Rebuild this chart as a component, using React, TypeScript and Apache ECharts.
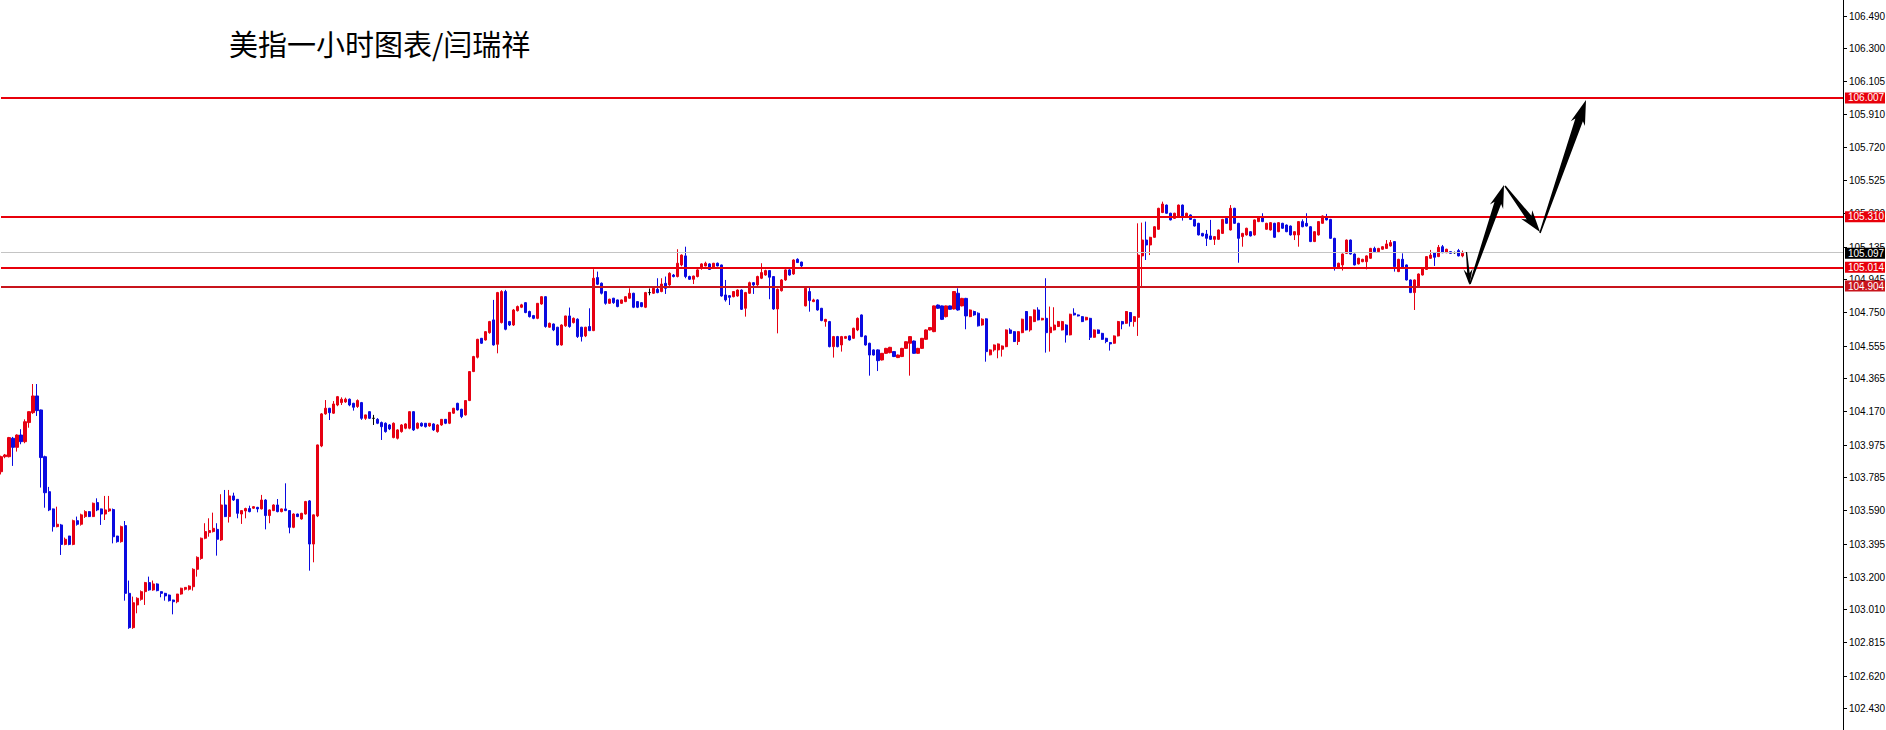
import React, { useEffect, useRef } from 'react';
import * as echarts from 'echarts';

const TITLE = '美指一小时图表/闫瑞祥';

// hourly candles: [open, close, low, high]
const candles: number[][] = [
  [103.816, 103.904, 103.800, 103.910], [103.904, 103.914, 103.895, 103.920], [103.904, 104.016, 103.900, 104.020], [104.012, 103.959, 103.850, 104.020],
  [103.959, 104.031, 103.934, 104.035], [104.031, 103.992, 103.977, 104.065], [103.992, 104.109, 103.983, 104.123], [104.104, 104.168, 104.074, 104.170],
  [104.162, 104.260, 104.155, 104.330], [104.260, 104.174, 104.143, 104.330], [104.178, 103.899, 103.723, 104.180], [103.904, 103.693, 103.605, 103.910],
  [103.699, 103.592, 103.585, 103.727], [103.598, 103.494, 103.465, 103.600], [103.494, 103.508, 103.490, 103.611], [103.504, 103.390, 103.328, 103.510],
  [103.390, 103.420, 103.385, 103.430], [103.439, 103.390, 103.385, 103.440], [103.390, 103.529, 103.385, 103.535], [103.529, 103.508, 103.500, 103.553],
  [103.508, 103.563, 103.500, 103.570], [103.553, 103.582, 103.545, 103.590], [103.582, 103.553, 103.550, 103.585], [103.553, 103.631, 103.550, 103.635],
  [103.635, 103.592, 103.585, 103.660], [103.598, 103.568, 103.504, 103.600], [103.568, 103.592, 103.533, 103.674], [103.586, 103.598, 103.580, 103.674],
  [103.594, 103.435, 103.396, 103.600], [103.439, 103.406, 103.400, 103.440], [103.406, 103.494, 103.400, 103.500], [103.500, 103.103, 103.060, 103.527],
  [103.103, 102.902, 102.895, 103.178], [102.902, 103.048, 102.895, 103.084], [103.035, 103.074, 102.986, 103.080], [103.068, 103.113, 103.060, 103.120],
  [103.113, 103.166, 103.035, 103.170], [103.166, 103.123, 103.118, 103.201], [103.123, 103.158, 103.118, 103.178], [103.158, 103.119, 103.115, 103.162],
  [103.113, 103.103, 103.080, 103.115], [103.103, 103.088, 103.060, 103.106], [103.093, 103.060, 103.055, 103.096], [103.064, 103.054, 102.980, 103.066],
  [103.054, 103.099, 103.045, 103.100], [103.099, 103.133, 103.095, 103.136], [103.127, 103.138, 103.120, 103.140], [103.127, 103.146, 103.120, 103.150],
  [103.142, 103.244, 103.119, 103.250], [103.244, 103.314, 103.201, 103.320], [103.308, 103.426, 103.300, 103.430], [103.426, 103.465, 103.420, 103.514],
  [103.459, 103.471, 103.435, 103.543], [103.465, 103.484, 103.460, 103.576], [103.478, 103.420, 103.324, 103.514], [103.416, 103.621, 103.410, 103.684],
  [103.621, 103.553, 103.550, 103.709], [103.553, 103.674, 103.518, 103.709], [103.674, 103.650, 103.645, 103.693], [103.654, 103.572, 103.543, 103.656],
  [103.568, 103.588, 103.510, 103.590], [103.586, 103.600, 103.543, 103.605], [103.600, 103.582, 103.578, 103.617], [103.602, 103.611, 103.598, 103.615],
  [103.607, 103.598, 103.578, 103.610], [103.598, 103.650, 103.595, 103.680], [103.650, 103.559, 103.478, 103.655], [103.559, 103.592, 103.514, 103.595],
  [103.588, 103.621, 103.585, 103.625], [103.621, 103.582, 103.578, 103.656], [103.582, 103.598, 103.578, 103.600], [103.598, 103.588, 103.585, 103.748],
  [103.588, 103.490, 103.455, 103.590], [103.490, 103.568, 103.485, 103.572], [103.568, 103.553, 103.550, 103.570], [103.539, 103.572, 103.535, 103.575],
  [103.568, 103.641, 103.565, 103.645], [103.645, 103.392, 103.236, 103.650], [103.392, 103.563, 103.285, 103.565], [103.557, 103.973, 103.550, 103.975],
  [103.967, 104.155, 103.960, 104.160], [104.155, 104.188, 104.150, 104.236], [104.188, 104.162, 104.119, 104.190], [104.159, 104.213, 104.155, 104.230],
  [104.207, 104.256, 104.200, 104.260], [104.221, 104.241, 104.207, 104.252], [104.225, 104.241, 104.220, 104.250], [104.241, 104.207, 104.200, 104.245],
  [104.217, 104.194, 104.174, 104.220], [104.198, 104.233, 104.190, 104.240], [104.221, 104.129, 104.120, 104.225], [104.129, 104.149, 104.120, 104.150],
  [104.168, 104.129, 104.125, 104.170], [104.129, 104.129, 104.090, 104.149], [104.123, 104.100, 104.095, 104.130], [104.104, 104.080, 104.002, 104.110],
  [104.100, 104.051, 104.045, 104.105], [104.090, 104.067, 104.060, 104.095], [104.016, 104.100, 104.012, 104.105], [104.012, 104.061, 104.005, 104.065],
  [104.051, 104.090, 104.045, 104.095], [104.071, 104.096, 104.065, 104.100], [104.071, 104.168, 104.065, 104.170], [104.168, 104.061, 104.055, 104.170],
  [104.071, 104.100, 104.065, 104.105], [104.100, 104.084, 104.080, 104.105], [104.100, 104.080, 104.075, 104.100], [104.084, 104.100, 104.080, 104.100],
  [104.096, 104.061, 104.055, 104.100], [104.051, 104.090, 104.045, 104.095], [104.090, 104.123, 104.085, 104.125], [104.123, 104.100, 104.095, 104.125],
  [104.100, 104.164, 104.095, 104.165], [104.159, 104.188, 104.155, 104.190], [104.217, 104.178, 104.175, 104.220], [104.182, 104.139, 104.130, 104.185],
  [104.149, 104.233, 104.145, 104.235], [104.233, 104.403, 104.230, 104.405], [104.403, 104.491, 104.400, 104.495], [104.487, 104.592, 104.480, 104.595],
  [104.598, 104.569, 104.565, 104.600], [104.588, 104.637, 104.585, 104.640], [104.631, 104.696, 104.625, 104.700], [104.706, 104.559, 104.555, 104.823],
  [104.563, 104.866, 104.510, 104.870], [104.690, 104.872, 104.685, 104.880], [104.872, 104.651, 104.645, 104.882], [104.696, 104.676, 104.670, 104.700],
  [104.676, 104.764, 104.670, 104.770], [104.760, 104.784, 104.755, 104.790], [104.780, 104.794, 104.775, 104.800], [104.807, 104.749, 104.745, 104.810],
  [104.755, 104.725, 104.720, 104.760], [104.731, 104.715, 104.710, 104.735], [104.715, 104.803, 104.710, 104.805], [104.799, 104.842, 104.795, 104.845],
  [104.842, 104.667, 104.660, 104.845], [104.663, 104.686, 104.660, 104.690], [104.682, 104.647, 104.640, 104.685], [104.663, 104.559, 104.555, 104.665],
  [104.559, 104.676, 104.555, 104.680], [104.671, 104.729, 104.665, 104.730], [104.729, 104.667, 104.660, 104.778], [104.690, 104.715, 104.685, 104.720],
  [104.710, 104.608, 104.600, 104.715], [104.663, 104.608, 104.579, 104.665], [104.612, 104.663, 104.605, 104.665], [104.667, 104.643, 104.640, 104.774],
  [104.643, 104.950, 104.640, 105.003], [104.954, 104.915, 104.910, 104.989], [104.921, 104.862, 104.855, 104.925], [104.872, 104.803, 104.795, 104.875],
  [104.803, 104.827, 104.800, 104.830], [104.833, 104.807, 104.800, 104.835], [104.823, 104.784, 104.780, 104.825], [104.803, 104.823, 104.800, 104.825],
  [104.813, 104.842, 104.810, 104.845], [104.833, 104.862, 104.830, 104.891], [104.862, 104.780, 104.775, 104.865], [104.813, 104.780, 104.775, 104.815],
  [104.807, 104.784, 104.780, 104.810], [104.780, 104.866, 104.775, 104.870], [104.866, 104.866, 104.850, 104.890], [104.862, 104.891, 104.858, 104.895],
  [104.885, 104.866, 104.862, 104.950], [104.872, 104.916, 104.868, 104.950], [104.920, 104.891, 104.858, 104.960], [104.911, 104.979, 104.905, 104.985],
  [104.969, 104.960, 104.955, 104.975], [104.960, 105.038, 104.955, 105.120], [105.028, 105.086, 105.020, 105.090], [105.081, 104.960, 104.950, 105.135],
  [104.960, 104.944, 104.940, 104.965], [104.944, 104.963, 104.916, 104.965], [104.960, 104.999, 104.955, 105.003], [105.008, 105.034, 105.000, 105.038],
  [105.022, 105.038, 105.020, 105.047], [105.034, 105.002, 105.000, 105.038], [105.008, 105.038, 105.005, 105.040], [105.038, 105.022, 105.020, 105.042],
  [105.028, 104.846, 104.842, 105.030], [104.852, 104.823, 104.813, 104.940], [104.848, 104.838, 104.793, 104.850], [104.842, 104.872, 104.838, 104.875],
  [104.846, 104.881, 104.842, 104.885], [104.881, 104.768, 104.764, 104.885], [104.774, 104.866, 104.725, 104.870], [104.862, 104.924, 104.858, 104.930],
  [104.924, 104.911, 104.858, 104.928], [104.911, 104.960, 104.905, 104.965], [104.950, 104.983, 104.945, 105.038], [104.969, 104.995, 104.965, 105.000],
  [104.995, 104.956, 104.827, 104.998], [104.960, 104.770, 104.765, 104.963], [104.770, 104.885, 104.627, 104.890], [104.877, 104.940, 104.872, 104.945],
  [104.940, 104.999, 104.935, 105.003], [104.999, 104.969, 104.965, 105.003], [104.975, 105.057, 104.970, 105.061], [105.061, 105.042, 105.040, 105.067],
  [105.045, 105.022, 105.008, 105.047], [104.788, 104.891, 104.785, 104.895], [104.872, 104.819, 104.754, 104.901], [104.813, 104.823, 104.810, 104.830],
  [104.823, 104.764, 104.760, 104.827], [104.774, 104.702, 104.698, 104.776], [104.696, 104.709, 104.666, 104.712], [104.696, 104.549, 104.545, 104.700],
  [104.549, 104.608, 104.485, 104.612], [104.608, 104.549, 104.545, 104.612], [104.559, 104.608, 104.520, 104.612], [104.598, 104.608, 104.595, 104.612],
  [104.612, 104.588, 104.585, 104.615], [104.598, 104.657, 104.595, 104.660], [104.647, 104.715, 104.640, 104.720], [104.735, 104.608, 104.605, 104.738],
  [104.612, 104.559, 104.555, 104.615], [104.569, 104.500, 104.379, 104.572], [104.530, 104.500, 104.497, 104.533], [104.530, 104.467, 104.406, 104.533],
  [104.471, 104.510, 104.468, 104.512], [104.510, 104.539, 104.507, 104.542], [104.514, 104.545, 104.510, 104.548], [104.520, 104.491, 104.488, 104.523],
  [104.485, 104.500, 104.482, 104.503], [104.491, 104.539, 104.488, 104.542], [104.539, 104.578, 104.536, 104.580], [104.569, 104.608, 104.379, 104.610],
  [104.582, 104.510, 104.507, 104.585], [104.510, 104.539, 104.507, 104.542], [104.539, 104.598, 104.536, 104.600], [104.592, 104.647, 104.589, 104.650],
  [104.647, 104.661, 104.644, 104.664], [104.637, 104.788, 104.634, 104.790], [104.793, 104.774, 104.770, 104.796], [104.788, 104.709, 104.705, 104.790],
  [104.725, 104.788, 104.720, 104.790], [104.788, 104.768, 104.765, 104.790], [104.770, 104.872, 104.767, 104.875], [104.862, 104.764, 104.760, 104.891],
  [104.788, 104.832, 104.785, 104.835], [104.832, 104.729, 104.651, 104.835], [104.725, 104.764, 104.722, 104.767], [104.755, 104.735, 104.730, 104.760],
  [104.745, 104.671, 104.667, 104.750], [104.676, 104.710, 104.672, 104.715], [104.712, 104.520, 104.461, 104.715], [104.501, 104.530, 104.498, 104.533],
  [104.530, 104.559, 104.520, 104.562], [104.530, 104.565, 104.481, 104.568], [104.534, 104.553, 104.491, 104.556], [104.549, 104.647, 104.546, 104.650],
  [104.647, 104.627, 104.624, 104.657], [104.637, 104.579, 104.576, 104.640], [104.579, 104.637, 104.559, 104.640], [104.631, 104.710, 104.628, 104.713],
  [104.755, 104.647, 104.644, 104.758], [104.647, 104.725, 104.637, 104.728], [104.696, 104.764, 104.693, 104.767], [104.764, 104.706, 104.703, 104.780],
  [104.706, 104.715, 104.703, 104.718], [104.715, 104.631, 104.514, 104.950], [104.631, 104.663, 104.520, 104.784], [104.647, 104.676, 104.644, 104.780],
  [104.667, 104.696, 104.664, 104.700], [104.647, 104.696, 104.644, 104.700], [104.676, 104.618, 104.573, 104.680], [104.618, 104.739, 104.615, 104.742],
  [104.745, 104.735, 104.732, 104.774], [104.735, 104.729, 104.726, 104.738], [104.725, 104.696, 104.693, 104.728], [104.706, 104.721, 104.703, 104.724],
  [104.715, 104.604, 104.588, 104.718], [104.604, 104.647, 104.601, 104.650], [104.647, 104.627, 104.624, 104.650], [104.627, 104.592, 104.589, 104.630],
  [104.598, 104.579, 104.569, 104.601], [104.573, 104.565, 104.526, 104.576], [104.569, 104.612, 104.566, 104.615], [104.612, 104.696, 104.609, 104.700],
  [104.696, 104.682, 104.651, 104.700], [104.686, 104.755, 104.683, 104.758], [104.749, 104.696, 104.667, 104.752], [104.696, 104.725, 104.666, 104.728],
  [104.721, 105.086, 104.612, 105.272], [105.081, 105.174, 104.897, 105.276], [105.174, 105.145, 105.057, 105.282], [105.145, 105.190, 105.086, 105.193],
  [105.190, 105.252, 105.187, 105.255], [105.237, 105.360, 105.234, 105.363], [105.335, 105.385, 105.332, 105.399], [105.379, 105.331, 105.328, 105.382],
  [105.331, 105.292, 105.289, 105.334], [105.301, 105.331, 105.298, 105.334], [105.315, 105.379, 105.312, 105.382], [105.379, 105.315, 105.288, 105.382],
  [105.315, 105.331, 105.310, 105.334], [105.321, 105.295, 105.292, 105.324], [105.295, 105.256, 105.253, 105.298], [105.272, 105.204, 105.201, 105.275],
  [105.213, 105.198, 105.195, 105.216], [105.209, 105.184, 105.139, 105.233], [105.198, 105.178, 105.175, 105.292], [105.178, 105.194, 105.145, 105.197],
  [105.178, 105.233, 105.175, 105.236], [105.213, 105.295, 105.210, 105.298], [105.301, 105.272, 105.269, 105.304], [105.233, 105.360, 105.230, 105.379],
  [105.360, 105.272, 105.269, 105.363], [105.272, 105.184, 105.041, 105.275], [105.194, 105.213, 105.135, 105.216], [105.204, 105.243, 105.200, 105.246],
  [105.223, 105.198, 105.195, 105.226], [105.204, 105.292, 105.200, 105.295], [105.282, 105.311, 105.279, 105.314], [105.311, 105.282, 105.279, 105.331],
  [105.237, 105.272, 105.234, 105.275], [105.233, 105.276, 105.230, 105.279], [105.272, 105.190, 105.187, 105.275], [105.223, 105.276, 105.220, 105.279],
  [105.272, 105.243, 105.240, 105.275], [105.262, 105.223, 105.220, 105.265], [105.256, 105.204, 105.200, 105.259], [105.204, 105.223, 105.174, 105.226],
  [105.204, 105.282, 105.135, 105.285], [105.282, 105.252, 105.249, 105.295], [105.272, 105.256, 105.253, 105.331], [105.252, 105.165, 105.162, 105.255],
  [105.165, 105.223, 105.162, 105.226], [105.204, 105.282, 105.200, 105.285], [105.272, 105.315, 105.270, 105.318], [105.311, 105.292, 105.289, 105.327],
  [105.295, 105.184, 105.181, 105.298], [105.184, 105.018, 104.995, 105.187], [105.014, 105.038, 105.011, 105.041], [105.028, 105.092, 104.995, 105.095],
  [105.096, 105.174, 105.093, 105.177], [105.174, 105.092, 105.089, 105.177], [105.092, 105.028, 105.025, 105.095], [105.034, 105.067, 105.031, 105.070],
  [105.047, 105.061, 105.044, 105.064], [105.047, 105.081, 105.002, 105.084], [105.067, 105.125, 105.064, 105.128], [105.125, 105.106, 105.103, 105.135],
  [105.106, 105.125, 105.103, 105.128], [105.120, 105.135, 105.117, 105.138], [105.125, 105.151, 105.122, 105.174], [105.139, 105.159, 105.136, 105.174],
  [105.165, 105.018, 104.989, 105.168], [104.989, 105.061, 104.986, 105.064], [105.061, 105.008, 105.005, 105.096], [105.028, 104.940, 104.937, 105.031],
  [104.940, 104.866, 104.863, 104.943], [104.866, 104.940, 104.764, 104.943], [104.905, 104.975, 104.902, 104.978], [104.969, 105.008, 104.966, 105.011],
  [105.002, 105.077, 104.999, 105.080], [105.067, 105.086, 105.064, 105.116], [105.100, 105.073, 105.022, 105.103], [105.077, 105.131, 105.074, 105.145],
  [105.135, 105.100, 105.097, 105.145], [105.100, 105.120, 105.097, 105.123], [105.106, 105.096, 105.093, 105.109], [105.100, 105.100, 105.094, 105.106],
  [105.112, 105.081, 105.078, 105.122], [105.081, 105.097, 105.073, 105.112],
];

// time slots on the x axis (the chart leaves empty room to the right of the last bar)
const slotCount = 461;
const slots = Array.from({ length: slotCount }, (_, i) => String(i));

const yMin = 102.302;
const yMax = 106.581;
const yTicks = [
  106.49, 106.3, 106.105, 105.91, 105.72, 105.525, 105.33, 105.135, 104.945, 104.75, 104.555,
  104.365, 104.17, 103.975, 103.785, 103.59, 103.395, 103.2, 103.01, 102.815, 102.62, 102.43,
];
const levels = [106.007, 105.31, 105.014, 104.904];
const lastPrice = 105.097;

const RED = '#e60012';
const BLUE = '#0a0ae0';
const LEVEL_COLORS = ['#e8000b', '#e8000b', '#e8000b', '#c8141c'];

function arrowPoints(x1: number, y1: number, x2: number, y2: number, w0: number, w1: number, headLen: number, headW: number) {
  const dx = x2 - x1;
  const dy = y2 - y1;
  const len = Math.hypot(dx, dy);
  const ux = dx / len;
  const uy = dy / len;
  const nx = -uy;
  const ny = ux;
  const bx = x2 - ux * headLen;
  const by = y2 - uy * headLen;
  const nb = 4;
  const hx = bx - ux * nb;
  const hy = by - uy * nb;
  return [
    [x1 + (nx * w0) / 2, y1 + (ny * w0) / 2],
    [bx + (nx * w1) / 2, by + (ny * w1) / 2],
    [hx + (nx * headW) / 2, hy + (ny * headW) / 2],
    [x2, y2],
    [hx - (nx * headW) / 2, hy - (ny * headW) / 2],
    [bx - (nx * w1) / 2, by - (ny * w1) / 2],
    [x1 - (nx * w0) / 2, y1 - (ny * w0) / 2],
  ];
}

export default function App() {
  const ref = useRef<HTMLDivElement>(null);

  useEffect(() => {
    if (!ref.current) return;
    const chart = echarts.init(ref.current, undefined, { renderer: 'svg' });

    const arrows = [
      arrowPoints(1466.5, 252, 1469.5, 285, 1.2, 2.5, 12, 9),
      arrowPoints(1470, 284, 1504, 185, 1.5, 7, 19, 14),
      arrowPoints(1505, 186, 1540, 232, 1.5, 6, 18, 14),
      arrowPoints(1540, 233, 1586, 100, 1.5, 8, 21, 15),
    ];

    const tagValues = [...levels, lastPrice];
    const tagColors = [...LEVEL_COLORS, '#000000'];

    const option: any = {
      animation: false,
      backgroundColor: '#ffffff',
      title: {
        text: TITLE,
        left: 229,
        top: 28,
        padding: 0,
        textStyle: { fontSize: 29, fontWeight: 'normal', color: '#000', fontFamily: '"Noto Sans CJK SC", sans-serif' },
      },
      grid: { left: 1, right: 43, top: 0, bottom: 0, containLabel: false },
      xAxis: {
        type: 'category',
        data: slots,
        boundaryGap: false,
        show: false,
      },
      yAxis: {
        type: 'value',
        position: 'right',
        min: yMin,
        max: yMax,
        scale: true,
        axisLine: { show: true, lineStyle: { color: '#000', width: 1 } },
        axisTick: { show: false },
        axisLabel: { show: false },
        splitLine: { show: false },
      },
      series: [
        {
          type: 'candlestick',
          data: candles,
          barWidth: 2.6,
          itemStyle: {
            color: RED,
            color0: BLUE,
            borderColor: RED,
            borderColor0: BLUE,
            borderColorDoji: '#000',
            borderWidth: 1,
          },
          markLine: {
            symbol: ['none', 'none'],
            silent: true,
            animation: false,
            label: { show: false },
            emphasis: { disabled: true },
            data: [
              { yAxis: lastPrice, lineStyle: { color: '#c4c4c4', width: 1, type: 'solid' } },
              ...levels.map((v, i) => ({ yAxis: v, lineStyle: { color: LEVEL_COLORS[i], width: 2, type: 'solid' } })),
            ],
          },
        },
        {
          type: 'custom',
          name: 'ticks',
          coordinateSystem: 'cartesian2d',
          clip: false,
          silent: true,
          z: 5,
          data: yTicks.map((v) => [0, v]),
          encode: { x: 0, y: 1 },
          renderItem: (params: any, api: any) => {
            const v = api.value(1);
            const y = Math.round(api.coord([0, v])[1]) + 0.5;
            const cs = params.coordSys;
            const x = cs.x + cs.width;
            return {
              type: 'group',
              children: [
                { type: 'line', shape: { x1: x, y1: y, x2: x + 4, y2: y }, style: { stroke: '#000', lineWidth: 1 } },
                {
                  type: 'text',
                  x: x + 6,
                  y,
                  style: { text: v.toFixed(3), fill: '#000', fontSize: 10, fontFamily: '"Liberation Sans", Arial, sans-serif', align: 'left', verticalAlign: 'middle' },
                },
              ],
            };
          },
        },
        {
          type: 'custom',
          name: 'tags',
          coordinateSystem: 'cartesian2d',
          clip: false,
          silent: true,
          z: 6,
          data: tagValues.map((v) => [0, v]),
          encode: { x: 0, y: 1 },
          renderItem: (params: any, api: any) => {
            const v = api.value(1);
            const y = api.coord([0, v])[1];
            const cs = params.coordSys;
            const x = cs.x + cs.width;
            return {
              type: 'group',
              children: [
                { type: 'rect', shape: { x: x + 2, y: y - 5.5, width: 40, height: 11 }, style: { fill: tagColors[params.dataIndex] } },
                {
                  type: 'text',
                  x: x + 5,
                  y,
                  style: { text: v.toFixed(3), fill: '#fff', fontSize: 10, fontFamily: '"Liberation Sans", Arial, sans-serif', align: 'left', verticalAlign: 'middle' },
                },
              ],
            };
          },
        },
      ],
      graphic: arrows.map((pts) => ({
        type: 'polygon',
        shape: { points: pts },
        style: { fill: '#000' },
        z: 20,
        silent: true,
      })),
    };

    chart.setOption(option);
    return () => chart.dispose();
  }, []);

  return (
    <div
      ref={ref}
      style={{ position: 'fixed', left: 0, top: 0, width: 1886, height: 730, background: '#fff' }}
    />
  );
}
